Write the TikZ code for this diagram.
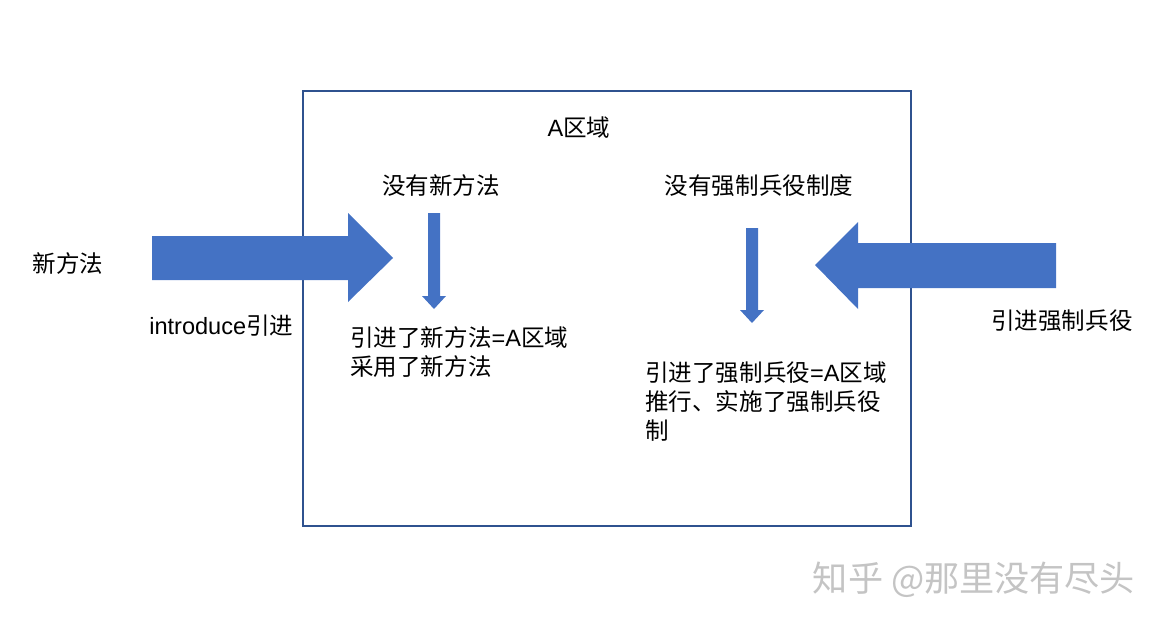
\documentclass[tikz,border=0pt]{standalone}
\usepackage{fontspec}
\setmainfont{Noto Sans CJK SC}
\newfontfamily\latfont{Liberation Sans}
\usepackage{tikz}
\usepackage{xcolor}
\definecolor{arrowblue}{HTML}{4472C4}
\definecolor{frameblue}{HTML}{2F528F}
\definecolor{markgray}{HTML}{C4C4C4}
\newcommand{\lat}[1]{{\latfont #1}}

\begin{document}
\begin{tikzpicture}[x=0.02cm, y=-0.02cm,
    every node/.style={font=\fontsize{13.4}{16.6}\selectfont, inner sep=0pt},
    blockarrow/.style={fill=arrowblue},
    textblock/.style={align=left, anchor=north west}]

    \useasboundingbox (0,0) rectangle (1162,629);

    % Region box
    \draw[frameblue, line width=0.6pt] (303,91) rectangle (911,526);
    \node (region) at (579,128) {\lat{A}区域};

    % Big arrows from outside
    \fill[blockarrow] (152,236) -- (348,236) -- (348,213) -- (393,258)
        -- (348,302) -- (348,280) -- (152,280) -- cycle;
    \fill[blockarrow] (1056,243) -- (858,243) -- (858,222) -- (815,265)
        -- (858,309) -- (858,288) -- (1056,288) -- cycle;

    % Small arrows inside
    \fill[blockarrow] (428,213) -- (440,213) -- (440,296) -- (446,296)
        -- (434,309) -- (422,296) -- (428,296) -- cycle;
    \fill[blockarrow] (746,228) -- (758,228) -- (758,310) -- (764,310)
        -- (752,323) -- (740,310) -- (746,310) -- cycle;

    % Labels
    \node (newmethod) at (68,263) {新方法};
    \node[anchor=west] (introduce) at (149,326) {\lat{introduce}引进};
    \node (nomethod) at (441,186) {没有新方法};
    \node (noservice) at (759,186) {没有强制兵役制度};
    \node[anchor=west] (service) at (991,321) {引进强制兵役};
    \node[textblock] (leftresult) at (350,326) {引进了新方法\lat{=A}区域\\采用了新方法};
    \node[textblock] (rightresult) at (645,361) {引进了强制兵役\lat{=A}区域\\推行、实施了强制兵役\\制};

    % Watermark
    \node[markgray, font=\fontsize{20}{22}\selectfont] (mark) at (974,580) {知乎 @那里没有尽头};

\end{tikzpicture}
\end{document}
